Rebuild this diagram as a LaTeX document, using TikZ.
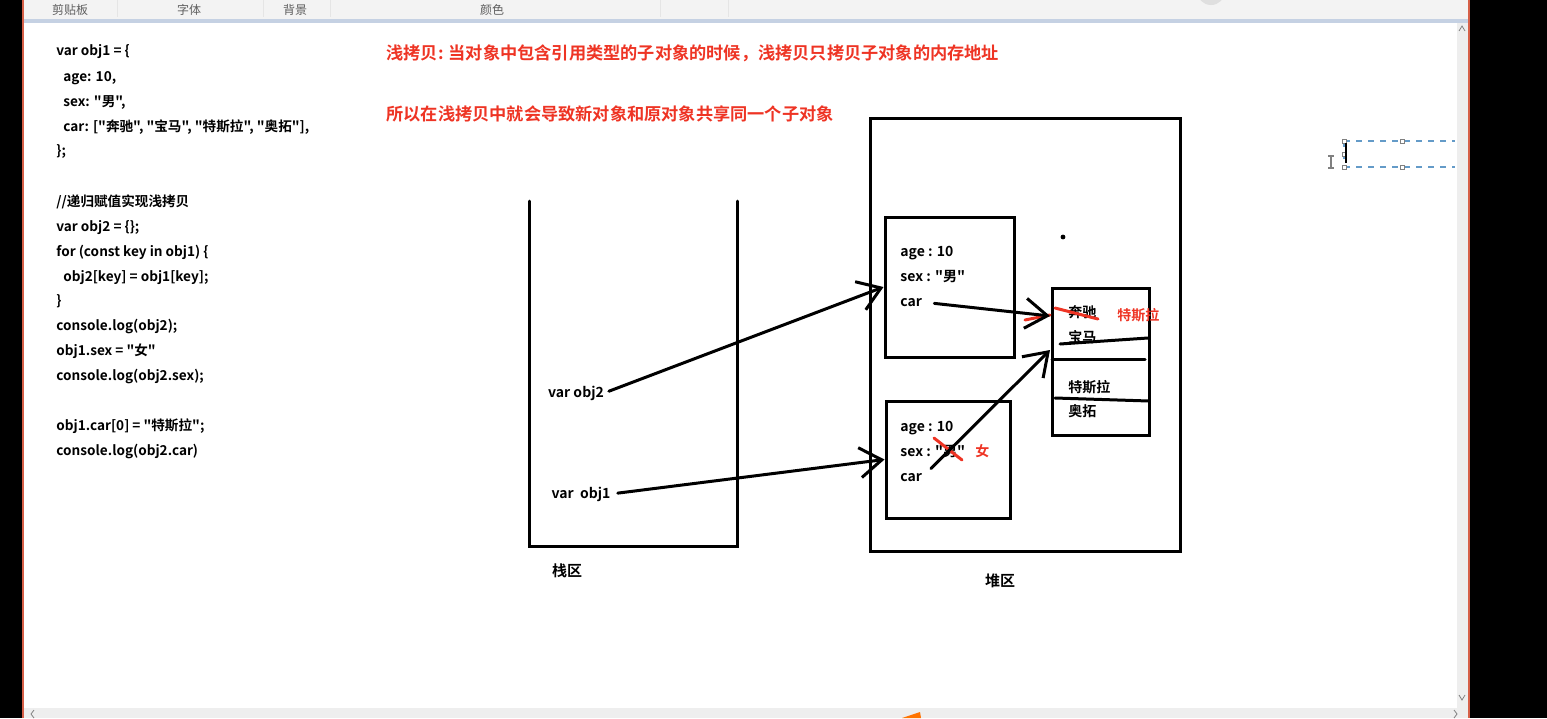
\documentclass[tikz,border=0pt]{standalone}
\usepackage{fontspec}
\setmainfont{Noto Sans CJK SC}[BoldFont={* Bold},Ligatures=TeXOff]
\usetikzlibrary{arrows.meta}
\definecolor{InkRed}{RGB}{238,52,36}
\definecolor{PaneGrey}{RGB}{243,243,243}
\definecolor{RuleBlue}{RGB}{197,209,227}
\definecolor{LabelGrey}{RGB}{95,95,95}
\definecolor{BarGrey}{RGB}{238,238,238}
\definecolor{EdgeRed}{RGB}{214,96,72}
\definecolor{SelBlue}{RGB}{100,155,200}

\begin{document}
\begin{tikzpicture}[x=0.5pt,y=-0.5pt,
  pen/.style={line width=1.5pt,line cap=round},
  arr/.style={pen,-{Straight Barb[length=11pt,width=15pt]}},
  redpen/.style={InkRed,line width=1.5pt,line cap=round},
  code/.style={font=\fontsize{6.8}{8}\selectfont\bfseries,anchor=base west,inner sep=0pt},
  field/.style={font=\fontsize{7}{8}\selectfont\bfseries,anchor=base west,inner sep=0pt},
  note/.style={font=\fontsize{8.6}{10}\selectfont\bfseries,text=InkRed,anchor=base west,inner sep=0pt},
  area/.style={font=\fontsize{7.5}{8}\selectfont\bfseries,inner sep=0pt},
  menu/.style={font=\fontsize{6}{7}\selectfont,text=LabelGrey,inner sep=0pt},
  box/.style={draw,line width=1.5pt,inner sep=0pt}]
  \useasboundingbox (0,0) rectangle (1547,718);

  % window frame of the paint program
  \fill[black] (0,0) rectangle (22,718);
  \fill[black] (1470,0) rectangle (1547,718);
  \fill[PaneGrey] (22,0) rectangle (1470,19);
  \fill[RuleBlue] (22,19) rectangle (1470,23);
  \fill[gray!25] (1211,-9) circle (14);
  \foreach \sx in {117,263,330,660,728}
    \draw[gray!20] (\sx,0) -- (\sx,17);
  \foreach \mx/\lbl in {70/剪贴板,189/字体,295/背景,492/颜色}
    \node[menu] (menu\mx) at (\mx,10) {\lbl};
  \fill[BarGrey] (1457,23) rectangle (1468,708);
  \fill[BarGrey] (22,708) rectangle (1468,718);
  \draw[EdgeRed,line width=0.6pt] (23,0) -- (23,718);
  \draw[EdgeRed,line width=0.6pt] (1469,0) -- (1469,718);
  \draw[gray,line width=0.4pt] (1459,31) -- (1462,26) -- (1465,31);
  \draw[gray,line width=0.4pt] (1459,695) -- (1462,700) -- (1465,695);
  \draw[gray,line width=0.4pt] (34,710) -- (31,714) -- (34,718);
  \draw[gray,line width=0.4pt] (1454,710) -- (1457,714) -- (1454,718);
  \fill[orange!90!red] (902,718) -- (920,712) -- (921,718) -- cycle;

  % text selection frame on the right
  \draw[SelBlue,dashed,line width=0.6pt] (1344,141) -- (1455,141);
  \draw[SelBlue,dashed,line width=0.6pt] (1344,167) -- (1455,167);
  \draw[SelBlue,dashed,line width=0.6pt] (1344,141) -- (1344,167);
  \foreach \hx/\hy in {1344/141,1402/141,1344/154,1344/167,1402/167}
    \draw[gray,fill=white,line width=0.4pt] (\hx-2,\hy-2) rectangle (\hx+2,\hy+2);
  \draw[black,line width=0.6pt] (1346,143) -- (1346,163);
  \draw[gray,line width=0.6pt] (1331,156) -- (1331,168);
  \draw[gray,line width=0.6pt] (1328,156) -- (1334,156) (1328,168) -- (1334,168);

  % code listing
  \foreach \y/\x/\txt in {
    50/56/{var obj1 = \{},
    76/63/{age: 10,},
    101/63/{sex: "男",},
    126/63/{car: ["奔驰", "宝马", "特斯拉", "奥拓"],},
    150/56/{\};},
    201/56/{//递归赋值实现浅拷贝},
    226/56/{var obj2 = \{\};},
    251/56/{for (const key in obj1) \{},
    276/63/{obj2[key] = obj1[key];},
    300/56/{\}},
    325/56/{console.log(obj2);},
    350/56/{obj1.sex = "女"},
    375/56/{console.log(obj2.sex);},
    425/56/{obj1.car[0] = "特斯拉";},
    450/56/{console.log(obj2.car)}
  }
    \node[code] (line\y) at (\x,\y+5) {\txt};

  % red notes
  \node[note] (note1) at (386,59) {浅拷贝: 当对象中包含引用类型的子对象的时候，浅拷贝只拷贝子对象的内存地址};
  \node[note] (note2) at (386,120) {所以在浅拷贝中就会导致新对象和原对象共享同一个子对象};

  % stack
  \draw[pen] (529,201) -- (529,546) -- (737,546) -- (737,201);
  \node[area] (stack) at (567,571) {栈区};
  \node[field,anchor=center] (v2) at (576,393) {var obj2};
  \node[field,anchor=center] (v1) at (581,494) {var~~obj1};

  % heap
  \node[box,minimum width=155pt,minimum height=216.5pt] (heap) at (1025,334.5) {};
  \node[area] (heaplbl) at (1000,581) {堆区};
  \fill (1063,237) circle (1.2pt);
  \node[box,minimum width=64.5pt,minimum height=70pt] (box1) at (949.5,287) {};
  \node[box,minimum width=62pt,minimum height=58.5pt] (box2) at (948,459.5) {};
  \node[field] (agea) at (900,256) {age : 10};
  \node[field] (sexa) at (900,281) {sex : "男"};
  \node[field] (cara) at (900,306) {car};
  \node[field] (ageb) at (900,431) {age : 10};
  \node[field] (sexb) at (900,456) {sex : "男"};
  \node[field] (carb) at (900,481) {car};

  % shared array
  \node[box,minimum width=48.5pt,minimum height=73.5pt] (arr) at (1100.5,361.5) {};
  \draw[pen] (1060,344) -- (1148,338);
  \draw[pen] (1052,359) -- (1145,359);
  \draw[pen] (1055,398) -- (1149,401);
  \node[field] (cell0) at (1068,317) {奔驰};
  \node[field] (cell1) at (1068,342) {宝马};
  \node[field] (cell2) at (1068,392) {特斯拉};
  \node[field] (cell3) at (1068,416) {奥拓};
  \coordinate (slot0) at (1050,316);
  \coordinate (slot1) at (1050,350);

  % edits in red
  \draw[redpen] (1055,308) -- (1098,319);
  \draw[redpen] (1025,320) -- (1050,315);
  \draw[redpen] (934,438) -- (962,460);
  \node[note,font=\fontsize{7}{8}\selectfont\bfseries] (newcar) at (1117,320) {特斯拉};
  \node[note,font=\fontsize{7}{8}\selectfont\bfseries] (newsex) at (975,456) {女};

  % references
  \draw[arr,shorten <=2.5pt] (v2.east) -- (box1.west);
  \draw[arr,shorten <=3.5pt] (v1.east) -- (box2.west);
  \draw[arr,shorten <=6pt] (cara.east) -- (slot0);
  \draw[arr,shorten <=6pt] (carb.east) -- (slot1);
\end{tikzpicture}
\end{document}
